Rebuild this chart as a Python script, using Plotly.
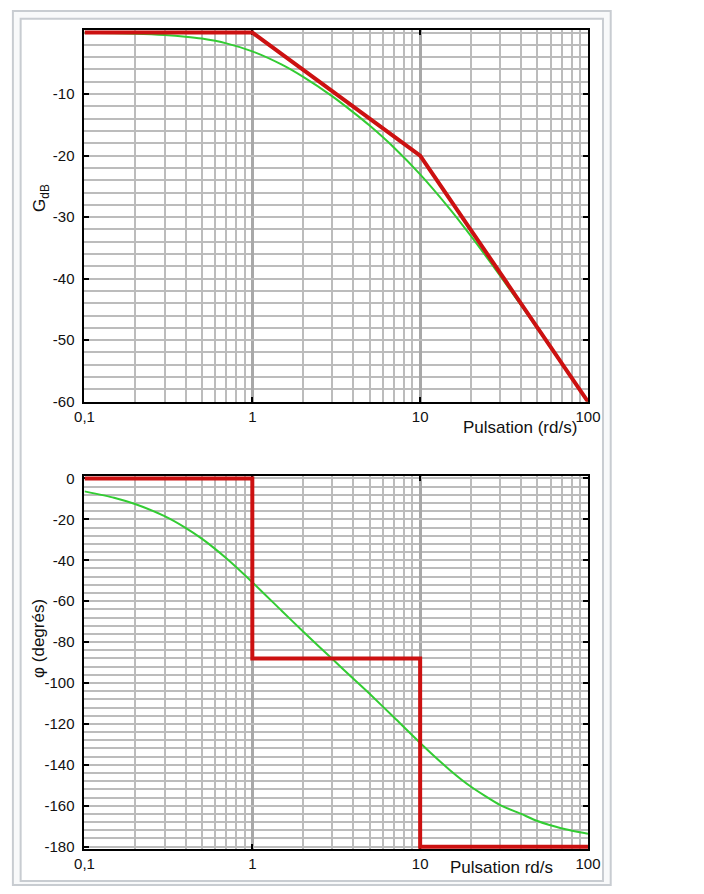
import plotly.graph_objects as go

# ---- data ----
w = [0.1, 0.15, 0.2, 0.3, 0.4, 0.5, 0.7, 1, 1.5, 2, 3, 4, 5, 7, 10, 15, 20, 30, 40, 50, 70, 100]
gain_real = [-0.04, -0.10, -0.17, -0.38, -0.66, -0.98, -1.75, -3.05, -5.21, -7.16, -10.37,
             -12.97, -15.12, -18.72, -23.05, -28.66, -33.02, -39.55, -44.37, -48.13, -53.89, -60.04]
phase_real = [-6.3, -9.4, -12.5, -18.4, -24.1, -29.4, -39.0, -50.7, -64.8, -74.7, -88.3,
              -97.9, -105.3, -116.9, -129.3, -142.5, -150.6, -159.7, -164.0, -167.5, -171.1, -173.7]

w_gain_asym = [0.1, 1, 10, 100]
gain_asym = [0, 0, -20, -60]

w_phase_asym = [0.1, 1, 1, 10, 10, 100]
phase_asym = [0, 0, -88, -88, -180, -180]

x_tickvals = [0.1, 1, 10, 100]
x_ticktext = ["0,1", "1", "10", "100"]
gain_ticks = [-10, -20, -30, -40, -50, -60]
gain_ticktext = ["-10", "-20", "-30", "-40", "-50", "-60"]
phase_ticks = [0, -20, -40, -60, -80, -100, -120, -140, -160, -180]
phase_ticktext = ["0", "-20", "-40", "-60", "-80", "-100", "-120", "-140", "-160", "-180"]
x_minor = [m * d for d in (0.1, 1, 10) for m in range(2, 10)]

W, H = 704, 894
RED = "#cc1111"
GREEN = "#33cc33"
FONT = "Liberation Sans, Arial, sans-serif"

def px(x):
    return x / W

def py(y):
    return 1 - y / H

fig = go.Figure()
fig.add_trace(go.Scatter(x=w, y=gain_real, mode="lines", line=dict(color=GREEN, width=2, shape="spline", smoothing=0.6),
                         xaxis="x", yaxis="y", showlegend=False))
fig.add_trace(go.Scatter(x=w_gain_asym, y=gain_asym, mode="lines", line=dict(color=RED, width=4),
                         xaxis="x", yaxis="y", showlegend=False))
fig.add_trace(go.Scatter(x=w, y=phase_real, mode="lines", line=dict(color=GREEN, width=2, shape="spline", smoothing=0.6),
                         xaxis="x2", yaxis="y2", showlegend=False))
fig.add_trace(go.Scatter(x=w_phase_asym, y=phase_asym, mode="lines", line=dict(color=RED, width=4),
                         xaxis="x2", yaxis="y2", showlegend=False))

xdom = [px(77), px(597.5)]

# gain: 6.25 px/dB ; top extended by 0.4 dB (2.5 px) so the 0 dB line is not clipped
# phase: 374/180 px/deg ; both ends extended by 1.2 deg (2.5 px)
common_x = dict(type="log", range=[-1, 2], domain=xdom, tickvals=x_tickvals, ticktext=x_ticktext,
                showline=True, linecolor="black", linewidth=2, mirror="ticks",
                ticks="inside", ticklen=5, tickwidth=2, tickcolor="black",
                showgrid=True, gridcolor="#a8a8a8", gridwidth=2.5,
                minor=dict(tickvals=x_minor, showgrid=True, gridcolor="#bcbcbc", gridwidth=1.5, ticks=""),
                tickfont=dict(family=FONT, size=15, color="#111"), zeroline=False, layer="below traces")
common_y = dict(showline=True, linecolor="black", linewidth=2, mirror="ticks",
                ticks="inside", ticklen=5, tickwidth=2, tickcolor="black",
                showgrid=True, gridcolor="#bcbcbc", gridwidth=1.5, zeroline=False,
                tickfont=dict(family=FONT, size=15, color="#111"), ticklabelstandoff=5, layer="below traces")

fig.update_layout(
    width=W, height=H, margin=dict(l=0, r=0, t=0, b=0),
    paper_bgcolor="white", plot_bgcolor="white", showlegend=False,
    xaxis=dict(common_x, anchor="y"),
    yaxis=dict(common_y, range=[-60, 0.4], domain=[py(402), py(24.5)], tickvals=gain_ticks, ticktext=gain_ticktext,
               anchor="x", minor=dict(dtick=2, showgrid=True, gridcolor="#bcbcbc", gridwidth=1.5, ticks="")),
    xaxis2=dict(common_x, anchor="y2"),
    yaxis2=dict(common_y, range=[-181.2, 1.2], domain=[py(856.5), py(477.5)], tickvals=phase_ticks,
                ticktext=phase_ticktext, anchor="x2",
                minor=dict(dtick=4, showgrid=True, gridcolor="#bcbcbc", gridwidth=1.5, ticks="")),
)

# page frame (thumbnail-style border)
fig.add_shape(type="rect", xref="paper", yref="paper", x0=px(3), x1=px(621), y0=py(893), y1=py(5),
              line=dict(color="#c8ccd1", width=2), fillcolor="#f8f9fa", layer="below")
fig.add_shape(type="rect", xref="paper", yref="paper", x0=px(11), x1=px(613), y0=py(889), y1=py(13),
              line=dict(color="#c8ccd1", width=2), fillcolor="white", layer="below")

ann_font = dict(family=FONT, size=17, color="#111")
fig.add_annotation(xref="paper", yref="paper", x=px(588), y=py(428), text="Pulsation (rd/s)",
                   showarrow=False, xanchor="right", yanchor="middle", font=ann_font)
fig.add_annotation(xref="paper", yref="paper", x=px(508), y=py(875), text="Pulsation rd/s",
                   showarrow=False, xanchor="center", yanchor="middle", font=ann_font)
fig.add_annotation(xref="paper", yref="paper", x=px(32), y=py(195), text="G<sub>dB</sub>",
                   showarrow=False, textangle=-90, xanchor="center", yanchor="middle", font=ann_font)
fig.add_annotation(xref="paper", yref="paper", x=px(30), y=py(643), text="φ (degrés)",
                   showarrow=False, textangle=-90, xanchor="center", yanchor="middle", font=ann_font)

fig.write_html("out.html")
